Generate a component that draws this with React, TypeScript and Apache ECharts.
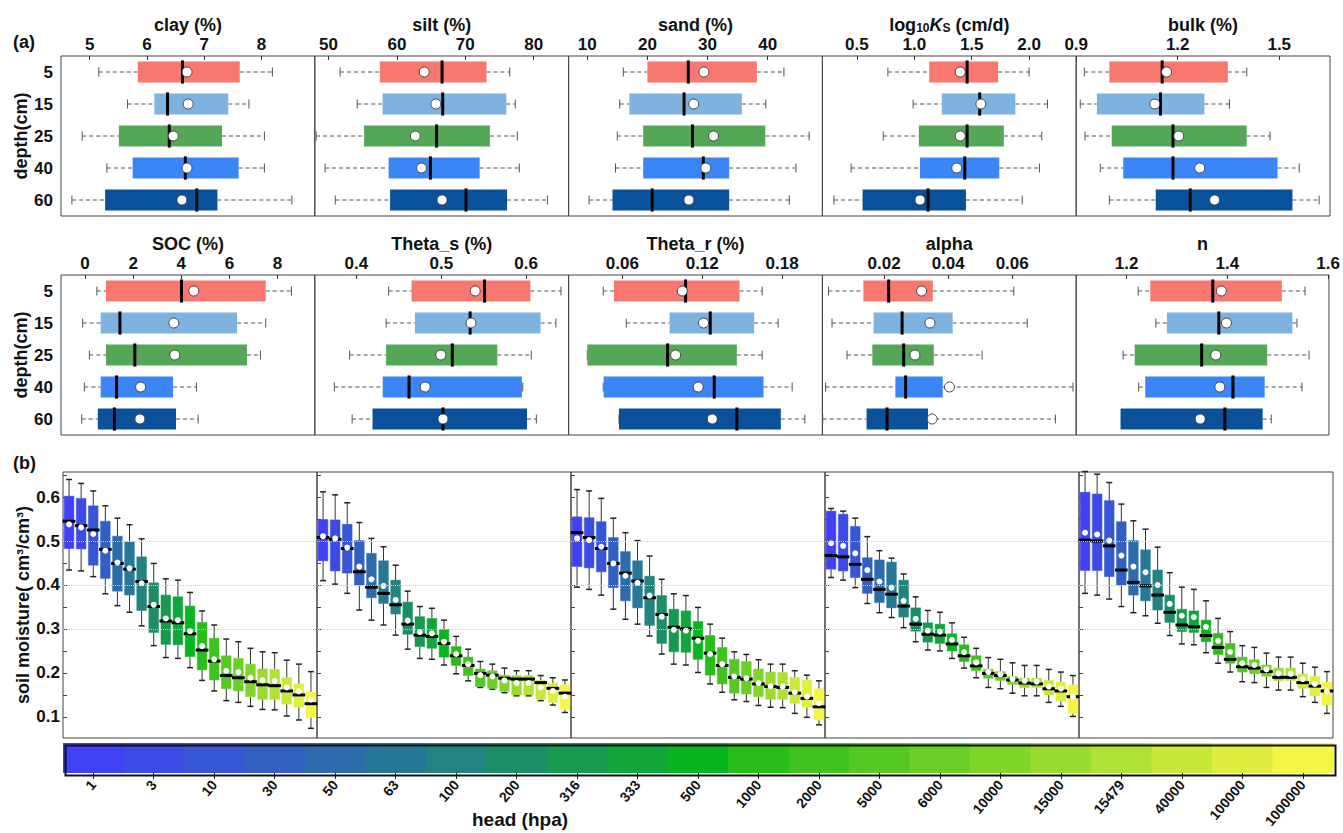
import React, { useEffect, useRef } from "react";
import * as echarts from "echarts";

const FONT = "'Liberation Sans', Arial, Helvetica, sans-serif";

// ---------- (a) soil properties by depth: [min, q1, median, q3, max, mean]
const depths = ["5", "15", "25", "40", "60"];
const depthColors = ["#F8776F", "#7EB3DF", "#55A758", "#3B86F6", "#0A519B"];

const clay = [
  [5.16, 5.84, 6.62, 7.62, 8.19, 6.7],
  [5.66, 6.13, 6.36, 7.42, 7.78, 6.72],
  [4.87, 5.51, 6.39, 7.31, 8.05, 6.46],
  [5.3, 5.75, 6.67, 7.6, 8.05, 6.7],
  [4.69, 5.27, 6.87, 7.23, 8.53, 6.61],
];
const silt = [
  [51.7, 57.5, 66.6, 73.1, 76.5, 64.0],
  [54.2, 57.9, 66.7, 76.0, 77.3, 65.7],
  [48.2, 55.2, 65.8, 73.6, 77.6, 62.7],
  [49.5, 58.8, 64.9, 72.1, 77.9, 63.6],
  [51.0, 59.0, 70.1, 76.1, 82.0, 66.6],
];
const sand = [
  [16.0, 20.0, 26.8, 38.2, 42.7, 29.4],
  [15.4, 17.0, 26.1, 35.7, 39.7, 27.7],
  [15.0, 19.3, 27.5, 39.6, 46.9, 31.0],
  [14.7, 19.3, 29.3, 33.6, 44.7, 29.7],
  [10.3, 14.2, 20.8, 33.6, 43.6, 26.9],
];
const logKs = [
  [0.77, 1.13, 1.46, 1.73, 2.0, 1.4],
  [0.99, 1.24, 1.57, 1.88, 2.16, 1.58],
  [0.73, 1.04, 1.46, 1.78, 2.11, 1.4],
  [0.45, 1.05, 1.44, 1.74, 2.09, 1.37],
  [0.3, 0.55, 1.12, 1.45, 1.94, 1.05],
];
const bulk = [
  [0.924, 0.998, 1.154, 1.348, 1.404, 1.167],
  [0.912, 0.961, 1.149, 1.279, 1.353, 1.132],
  [0.926, 1.005, 1.186, 1.404, 1.473, 1.203],
  [0.971, 1.039, 1.186, 1.495, 1.559, 1.265],
  [0.998, 1.135, 1.237, 1.539, 1.618, 1.309],
];
const soc = [
  [0.49, 0.87, 4.01, 7.51, 8.58, 4.52],
  [-0.1, 0.65, 1.45, 6.32, 7.51, 3.69],
  [0.18, 0.87, 2.07, 6.73, 7.29, 3.73],
  [-0.03, 0.65, 1.31, 3.66, 4.63, 2.31],
  [-0.14, 0.53, 1.22, 3.78, 4.7, 2.28],
];
const thetaS = [
  [0.438, 0.465, 0.551, 0.605, 0.641, 0.54],
  [0.435, 0.469, 0.534, 0.617, 0.635, 0.535],
  [0.392, 0.435, 0.513, 0.566, 0.606, 0.4995],
  [0.374, 0.431, 0.462, 0.595, 0.596, 0.481],
  [0.395, 0.419, 0.502, 0.601, 0.612, 0.502],
];
const thetaR = [
  [0.0457, 0.0537, 0.1075, 0.148, 0.165, 0.105],
  [0.063, 0.0955, 0.126, 0.159, 0.177, 0.121],
  [0.0337, 0.0337, 0.094, 0.146, 0.165, 0.1],
  [0.0457, 0.046, 0.129, 0.166, 0.1875, 0.117],
  [0.0575, 0.0575, 0.146, 0.179, 0.197, 0.1275],
];
const alpha = [
  [0.0026, 0.0135, 0.0214, 0.0352, 0.0605, 0.0317],
  [0.0037, 0.0167, 0.0256, 0.0414, 0.0647, 0.0343],
  [0.0084, 0.0163, 0.0261, 0.0355, 0.0506, 0.0296],
  [0.0017, 0.0235, 0.0267, 0.0383, 0.079, 0.0404],
  [0.0008, 0.0145, 0.0209, 0.0337, 0.0735, 0.035],
];
const nParam = [
  [1.223, 1.247, 1.371, 1.508, 1.554, 1.388],
  [1.258, 1.28, 1.383, 1.529, 1.538, 1.398],
  [1.193, 1.216, 1.349, 1.479, 1.562, 1.377],
  [1.224, 1.237, 1.411, 1.474, 1.548, 1.385],
  [1.205, 1.188, 1.395, 1.47, 1.487, 1.346],
];

const clayTicks = [5, 6, 7, 8];
const siltTicks = [50, 60, 70, 80];
const sandTicks = [10, 20, 30, 40];
const ksTicks = [0.5, 1.0, 1.5, 2.0];
const bulkTicks = [0.9, 1.2, 1.5];
const socTicks = [0, 2, 4, 6, 8];
const thetaSTicks = [0.4, 0.5, 0.6];
const thetaRTicks = [0.06, 0.12, 0.18];
const alphaTicks = [0.02, 0.04, 0.06];
const nTicks = [1.2, 1.4, 1.6];

// ---------- (b) soil moisture by head, one panel per depth: [min, q1, median, q3, max, mean]
const heads = ["1", "3", "10", "30", "50", "63", "100", "200", "316", "333", "500", "1000", "2000", "5000", "6000", "10000", "15000", "15479", "40000", "100000", "1000000"];
const headColors = [
  "#4040F5", "#3B4CE6", "#3656D6", "#3160C2", "#2C6CAC", "#277896", "#228380",
  "#1C8E67", "#179A50", "#10A63A", "#06B520", "#28BD18", "#40C31E", "#55C922",
  "#6ACF27", "#80D52B", "#98DC30", "#B0E235", "#C8E83A", "#E0EF3F", "#F5F545",
];
const moistureTicks = [0.1, 0.2, 0.3, 0.4, 0.5, 0.6];
const moistureMinorTicks = [0.05, 0.1, 0.15, 0.2, 0.25, 0.3, 0.35, 0.4, 0.45, 0.5, 0.55, 0.6, 0.65];
const moistureRefLines = [0.3, 0.4, 0.5];

const moisture5 = [
  [0.434, 0.483, 0.545, 0.602, 0.64, 0.538],
  [0.432, 0.482, 0.535, 0.597, 0.631, 0.531],
  [0.419, 0.445, 0.525, 0.58, 0.614, 0.516],
  [0.38, 0.415, 0.481, 0.545, 0.58, 0.478],
  [0.353, 0.386, 0.449, 0.511, 0.552, 0.451],
  [0.338, 0.377, 0.436, 0.498, 0.537, 0.438],
  [0.307, 0.342, 0.408, 0.464, 0.505, 0.404],
  [0.262, 0.292, 0.351, 0.405, 0.449, 0.355],
  [0.235, 0.265, 0.318, 0.377, 0.414, 0.324],
  [0.233, 0.264, 0.314, 0.373, 0.411, 0.32],
  [0.212, 0.237, 0.289, 0.352, 0.383, 0.295],
  [0.183, 0.207, 0.252, 0.315, 0.341, 0.261],
  [0.159, 0.184, 0.227, 0.279, 0.309, 0.231],
  [0.137, 0.164, 0.194, 0.239, 0.277, 0.205],
  [0.133, 0.159, 0.189, 0.233, 0.271, 0.202],
  [0.124, 0.146, 0.18, 0.22, 0.256, 0.189],
  [0.117, 0.14, 0.173, 0.209, 0.248, 0.183],
  [0.116, 0.14, 0.171, 0.208, 0.246, 0.182],
  [0.102, 0.129, 0.159, 0.189, 0.229, 0.167],
  [0.093, 0.122, 0.15, 0.175, 0.22, 0.158],
  [0.074, 0.099, 0.13, 0.156, 0.203, 0.139],
];
const moisture15 = [
  [0.41, 0.455, 0.508, 0.549, 0.612, 0.511],
  [0.402, 0.432, 0.504, 0.548, 0.605, 0.506],
  [0.381, 0.427, 0.483, 0.538, 0.587, 0.485],
  [0.343, 0.4, 0.43, 0.501, 0.542, 0.442],
  [0.32, 0.371, 0.395, 0.472, 0.506, 0.413],
  [0.309, 0.358, 0.381, 0.455, 0.487, 0.398],
  [0.286, 0.334, 0.355, 0.411, 0.445, 0.366],
  [0.254, 0.288, 0.311, 0.361, 0.386, 0.319],
  [0.233, 0.26, 0.286, 0.328, 0.351, 0.293],
  [0.231, 0.256, 0.283, 0.324, 0.347, 0.29],
  [0.218, 0.236, 0.267, 0.299, 0.32, 0.271],
  [0.198, 0.217, 0.239, 0.26, 0.283, 0.243],
  [0.182, 0.194, 0.217, 0.236, 0.254, 0.22],
  [0.167, 0.169, 0.199, 0.209, 0.226, 0.195],
  [0.163, 0.165, 0.195, 0.205, 0.22, 0.192],
  [0.155, 0.158, 0.188, 0.195, 0.211, 0.183],
  [0.148, 0.15, 0.186, 0.194, 0.205, 0.177],
  [0.148, 0.15, 0.186, 0.194, 0.205, 0.177],
  [0.137, 0.14, 0.178, 0.183, 0.194, 0.167],
  [0.127, 0.133, 0.165, 0.177, 0.189, 0.159],
  [0.11, 0.117, 0.154, 0.173, 0.184, 0.146],
];
const moisture25 = [
  [0.395, 0.442, 0.519, 0.555, 0.617, 0.506],
  [0.39, 0.439, 0.508, 0.553, 0.614, 0.502],
  [0.377, 0.43, 0.483, 0.544, 0.597, 0.487],
  [0.345, 0.394, 0.449, 0.508, 0.552, 0.449],
  [0.322, 0.364, 0.427, 0.476, 0.519, 0.421],
  [0.311, 0.348, 0.409, 0.455, 0.501, 0.405],
  [0.284, 0.308, 0.371, 0.42, 0.466, 0.376],
  [0.243, 0.267, 0.333, 0.376, 0.413, 0.328],
  [0.22, 0.248, 0.304, 0.345, 0.38, 0.298],
  [0.218, 0.247, 0.3, 0.341, 0.376, 0.296],
  [0.201, 0.231, 0.279, 0.317, 0.349, 0.273],
  [0.175, 0.195, 0.245, 0.285, 0.311, 0.243],
  [0.156, 0.175, 0.217, 0.258, 0.279, 0.22],
  [0.139, 0.154, 0.19, 0.231, 0.248, 0.192],
  [0.135, 0.152, 0.186, 0.226, 0.242, 0.188],
  [0.126, 0.146, 0.175, 0.209, 0.23, 0.177],
  [0.122, 0.14, 0.169, 0.202, 0.22, 0.17],
  [0.121, 0.14, 0.167, 0.201, 0.22, 0.169],
  [0.108, 0.131, 0.154, 0.19, 0.205, 0.156],
  [0.099, 0.122, 0.142, 0.184, 0.195, 0.146],
  [0.082, 0.093, 0.123, 0.164, 0.182, 0.131],
];
const moisture40 = [
  [0.417, 0.436, 0.467, 0.568, 0.574, 0.495],
  [0.411, 0.432, 0.464, 0.561, 0.568, 0.489],
  [0.394, 0.417, 0.447, 0.533, 0.552, 0.472],
  [0.358, 0.381, 0.413, 0.462, 0.51, 0.434],
  [0.337, 0.36, 0.39, 0.457, 0.478, 0.408],
  [0.326, 0.348, 0.379, 0.452, 0.461, 0.394],
  [0.303, 0.327, 0.352, 0.411, 0.425, 0.364],
  [0.271, 0.295, 0.311, 0.348, 0.373, 0.323],
  [0.252, 0.27, 0.288, 0.314, 0.342, 0.296],
  [0.25, 0.267, 0.286, 0.311, 0.338, 0.294],
  [0.233, 0.25, 0.266, 0.289, 0.314, 0.275],
  [0.211, 0.226, 0.239, 0.264, 0.281, 0.247],
  [0.189, 0.205, 0.216, 0.239, 0.256, 0.224],
  [0.167, 0.188, 0.199, 0.208, 0.235, 0.202],
  [0.164, 0.183, 0.194, 0.203, 0.231, 0.197],
  [0.154, 0.174, 0.184, 0.192, 0.223, 0.186],
  [0.148, 0.167, 0.177, 0.188, 0.217, 0.182],
  [0.148, 0.167, 0.175, 0.188, 0.217, 0.18],
  [0.133, 0.15, 0.164, 0.183, 0.208, 0.169],
  [0.124, 0.136, 0.159, 0.179, 0.202, 0.164],
  [0.101, 0.108, 0.146, 0.173, 0.194, 0.146],
];
const moisture60 = [
  [0.381, 0.433, 0.502, 0.611, 0.658, 0.519],
  [0.377, 0.433, 0.5, 0.607, 0.652, 0.515],
  [0.368, 0.419, 0.489, 0.592, 0.633, 0.501],
  [0.351, 0.4, 0.434, 0.544, 0.584, 0.467],
  [0.337, 0.377, 0.406, 0.501, 0.546, 0.442],
  [0.33, 0.364, 0.398, 0.48, 0.527, 0.429],
  [0.313, 0.343, 0.377, 0.434, 0.486, 0.4],
  [0.285, 0.315, 0.338, 0.377, 0.428, 0.357],
  [0.266, 0.294, 0.309, 0.345, 0.395, 0.33],
  [0.264, 0.292, 0.305, 0.341, 0.39, 0.327],
  [0.246, 0.271, 0.285, 0.32, 0.364, 0.305],
  [0.222, 0.242, 0.258, 0.29, 0.324, 0.273],
  [0.202, 0.222, 0.231, 0.267, 0.294, 0.248],
  [0.18, 0.202, 0.214, 0.236, 0.262, 0.222],
  [0.178, 0.198, 0.211, 0.23, 0.258, 0.218],
  [0.167, 0.192, 0.203, 0.218, 0.245, 0.208],
  [0.161, 0.183, 0.19, 0.211, 0.236, 0.199],
  [0.161, 0.183, 0.19, 0.211, 0.236, 0.198],
  [0.146, 0.165, 0.178, 0.197, 0.222, 0.186],
  [0.133, 0.148, 0.17, 0.192, 0.213, 0.175],
  [0.108, 0.127, 0.159, 0.179, 0.203, 0.158],
];
const moisturePanels = [moisture5, moisture15, moisture25, moisture40, moisture60];

// ---------- rendering helpers
const renderHorizontalBox = (params: any, api: any) => {
  const yi = params.dataIndex;
  const c = (d: number) => api.coord([api.value(d), yi]);
  const pMin = c(1), pQ1 = c(2), pMed = c(3), pQ3 = c(4), pMax = c(5), pMean = c(6);
  const band = api.size([0, 1])[1];
  const h = band * 0.66;
  const yc = pMin[1];
  const dash = { stroke: "#555", lineWidth: 1, lineDash: [4, 3] };
  const solid = { stroke: "#555", lineWidth: 1 };
  return {
    type: "group",
    children: [
      { type: "line", shape: { x1: pMin[0], y1: yc, x2: pQ1[0], y2: yc }, style: dash },
      { type: "line", shape: { x1: pQ3[0], y1: yc, x2: pMax[0], y2: yc }, style: dash },
      { type: "line", shape: { x1: pMin[0], y1: yc - 4.5, x2: pMin[0], y2: yc + 4.5 }, style: solid },
      { type: "line", shape: { x1: pMax[0], y1: yc - 4.5, x2: pMax[0], y2: yc + 4.5 }, style: solid },
      { type: "rect", shape: { x: pQ1[0], y: yc - h / 2, width: pQ3[0] - pQ1[0], height: h }, style: { fill: depthColors[yi] } },
      { type: "line", shape: { x1: pMed[0], y1: yc - h / 2 - 1, x2: pMed[0], y2: yc + h / 2 + 1 }, style: { stroke: "#000", lineWidth: 3 } },
      { type: "circle", shape: { cx: pMean[0], cy: yc, r: 5 }, style: { fill: "#fff", stroke: "#444", lineWidth: 1 } },
    ],
  };
};

const renderVerticalBox = (params: any, api: any) => {
  const xi = params.dataIndex;
  const c = (d: number) => api.coord([xi, api.value(d)]);
  const pMin = c(1), pQ1 = c(2), pMed = c(3), pQ3 = c(4), pMax = c(5), pMean = c(6);
  const band = api.size([1, 0])[0];
  const w = band * 0.8;
  const xc = pMin[0];
  const wl = { stroke: "#333", lineWidth: 1 };
  return {
    type: "group",
    children: [
      { type: "line", shape: { x1: xc, y1: pMax[1], x2: xc, y2: pQ3[1] }, style: wl },
      { type: "line", shape: { x1: xc, y1: pQ1[1], x2: xc, y2: pMin[1] }, style: wl },
      { type: "line", shape: { x1: xc - 3, y1: pMax[1], x2: xc + 3, y2: pMax[1] }, style: { stroke: "#222", lineWidth: 1.5 } },
      { type: "line", shape: { x1: xc - 3, y1: pMin[1], x2: xc + 3, y2: pMin[1] }, style: { stroke: "#222", lineWidth: 1.5 } },
      { type: "rect", shape: { x: xc - w / 2, y: pQ3[1], width: w, height: pQ1[1] - pQ3[1] }, style: { fill: headColors[xi], stroke: headColors[xi], lineWidth: 0.5 } },
      { type: "line", shape: { x1: xc - w / 2 - 1.5, y1: pMed[1], x2: xc + w / 2 + 1.5, y2: pMed[1] }, style: { stroke: "#000", lineWidth: 3 } },
      { type: "circle", shape: { cx: pMean[0], cy: pMean[1], r: 3 }, style: { fill: "#fff" } },
    ],
  };
};

const renderColorCell = (params: any, api: any) => {
  const xi = params.dataIndex;
  const band = api.size([1, 0])[0];
  const p0 = api.coord([xi, 0]);
  const p1 = api.coord([xi, 1]);
  return {
    type: "rect",
    shape: { x: p0[0] - band / 2, y: p1[1], width: band + 0.8, height: p0[1] - p1[1] },
    style: { fill: headColors[xi] },
  };
};

function buildOption() {
  const grids: any[] = [];
  const xAxes: any[] = [];
  const yAxes: any[] = [];
  const series: any[] = [];
  const bold = { fontFamily: FONT, fontWeight: "bold", color: "#111" };

  const topPanels = [
    { title: "clay (%)", data: clay, min: 4.5, max: 8.93, ticks: clayTicks, dec: 0 },
    { title: "silt (%)", data: silt, min: 48, max: 85.1, ticks: siltTicks, dec: 0 },
    { title: "sand (%)", data: sand, min: 6.9, max: 49.1, ticks: sandTicks, dec: 0 },
    { title: "log{sub|10}{it|K}{sub|S} (cm/d)", data: logKs, min: 0.2, max: 2.41, ticks: ksTicks, dec: 1 },
    { title: "bulk (%)", data: bulk, min: 0.9, max: 1.65, ticks: bulkTicks, dec: 1 },
    { title: "SOC (%)", data: soc, min: -1, max: 9.55, ticks: socTicks, dec: 0 },
    { title: "Theta_s (%)", data: thetaS, min: 0.351, max: 0.65, ticks: thetaSTicks, dec: 1 },
    { title: "Theta_r (%)", data: thetaR, min: 0.0197, max: 0.2102, ticks: thetaRTicks, dec: 2 },
    { title: "alpha", data: alpha, min: 0.0007, max: 0.08, ticks: alphaTicks, dec: 2 },
    { title: "n", data: nParam, min: 1.1, max: 1.6015, ticks: nTicks, dec: 1 },
  ];

  const pw = 253.8;
  topPanels.forEach((p, k) => {
    const row = Math.floor(k / 5);
    const col = k % 5;
    const gi = grids.length;
    grids.push({
      left: 61 + col * pw, top: row === 0 ? 56 : 275, width: pw, height: 160,
      show: true, borderColor: "#444", borderWidth: 1, containLabel: false,
    });
    xAxes.push({
      type: "value", gridIndex: gi, position: "top", min: p.min, max: p.max,
      name: p.title, nameLocation: "middle", nameGap: 22,
      nameTextStyle: {
        ...bold, fontSize: 18,
        rich: {
          sub: { ...bold, fontSize: 12, verticalAlign: "bottom", lineHeight: 12 },
          it: { ...bold, fontSize: 18, fontStyle: "italic" },
        },
      },
      axisLine: { show: false },
      splitLine: { show: false },
      axisTick: { show: true, inside: true, length: 4, lineStyle: { color: "#333" }, customValues: p.ticks },
      axisLabel: { ...bold, fontSize: 17, margin: 3, customValues: p.ticks, formatter: (v: number) => v.toFixed(p.dec) },
    });
    yAxes.push({
      type: "category", gridIndex: gi, data: depths, inverse: true,
      name: col === 0 ? "depth(cm)" : "", nameLocation: "middle", nameRotate: 90, nameGap: 29,
      nameTextStyle: { ...bold, fontSize: 18 },
      axisLine: { show: false }, axisTick: { show: false },
      axisLabel: { show: col === 0, ...bold, fontSize: 17, margin: 8 },
    });
    series.push({
      type: "custom", xAxisIndex: gi, yAxisIndex: gi, silent: true,
      renderItem: renderHorizontalBox,
      encode: { x: [1, 2, 3, 4, 5, 6], y: 0 },
      data: p.data.map((r, i) => [i, ...r]),
    });
  });

  const bw = 254;
  moisturePanels.forEach((panel, k) => {
    const gi = grids.length;
    grids.push({
      left: 63 + k * bw, top: 472, width: bw, height: 266,
      show: true, borderColor: "#444", borderWidth: 1, containLabel: false,
    });
    xAxes.push({
      type: "category", gridIndex: gi, data: heads, boundaryGap: true,
      axisLine: { show: false }, axisTick: { show: false }, axisLabel: { show: false },
    });
    yAxes.push({
      type: "value", gridIndex: gi, min: 0.052, max: 0.657,
      name: k === 0 ? "soil moisture( cm³/cm³)" : "", nameLocation: "middle", nameRotate: 90, nameGap: 30,
      nameTextStyle: { ...bold, fontSize: 18 },
      axisLine: { show: false },
      splitLine: { show: false },
      axisTick: { show: true, inside: true, length: 4, lineStyle: { color: "#444" }, customValues: moistureMinorTicks },
      axisLabel: { show: k === 0, ...bold, fontSize: 17, margin: 3, customValues: moistureTicks, formatter: (v: number) => v.toFixed(1) },
    });
    series.push({
      type: "line", xAxisIndex: gi, yAxisIndex: gi, data: [], silent: true,
      markLine: {
        silent: true, symbol: "none", label: { show: false },
        lineStyle: { type: "dotted", color: "#ccc", width: 1 },
        data: moistureRefLines.map((v) => ({ yAxis: v })),
      },
    });
    series.push({
      type: "custom", xAxisIndex: gi, yAxisIndex: gi, silent: true,
      renderItem: renderVerticalBox,
      encode: { x: 0, y: [1, 2, 3, 4, 5, 6] },
      data: panel.map((r, i) => [i, ...r]),
    });
  });

  // colour bar
  const cg = grids.length;
  grids.push({ left: 63, top: 743, width: 1270, height: 30, show: false, containLabel: false });
  xAxes.push({
    type: "category", gridIndex: cg, data: heads,
    axisLine: { show: false },
    axisTick: { show: true, alignWithLabel: true, length: 6, lineStyle: { color: "#222" } },
    axisLabel: { rotate: 50, interval: 0, fontFamily: FONT, fontWeight: "bold", fontSize: 14, color: "#111", margin: 9 },
  });
  yAxes.push({ type: "value", gridIndex: cg, min: 0, max: 1, show: false });
  series.push({
    type: "custom", xAxisIndex: cg, yAxisIndex: cg, silent: true,
    renderItem: renderColorCell,
    encode: { x: 0, y: 1 },
    data: heads.map((h, i) => [i, 1]),
  });

  return {
    animation: false,
    backgroundColor: "#fff",
    grid: grids,
    xAxis: xAxes,
    yAxis: yAxes,
    series,
    graphic: [
      { type: "rect", left: 63, top: 743, z: 100, shape: { width: 1270, height: 30 }, style: { fill: "none", stroke: "#111", lineWidth: 2 } },
      { type: "text", left: 13, top: 33, style: { text: "(a)", font: `bold 18px ${FONT}`, fill: "#111" } },
      { type: "text", left: 13, top: 454, style: { text: "(b)", font: `bold 18px ${FONT}`, fill: "#111" } },
      { type: "text", left: 472, top: 810, style: { text: "head (hpa)", font: `bold 19px ${FONT}`, fill: "#111" } },
    ],
  };
}

export default function App() {
  const ref = useRef<HTMLDivElement>(null);
  useEffect(() => {
    if (!ref.current) return;
    const chart = echarts.init(ref.current, undefined, { renderer: "svg" });
    chart.setOption(buildOption() as any);
    return () => chart.dispose();
  }, []);
  return <div ref={ref} style={{ position: "fixed", left: 0, top: 0, width: 1343, height: 833, background: "#fff" }} />;
}
